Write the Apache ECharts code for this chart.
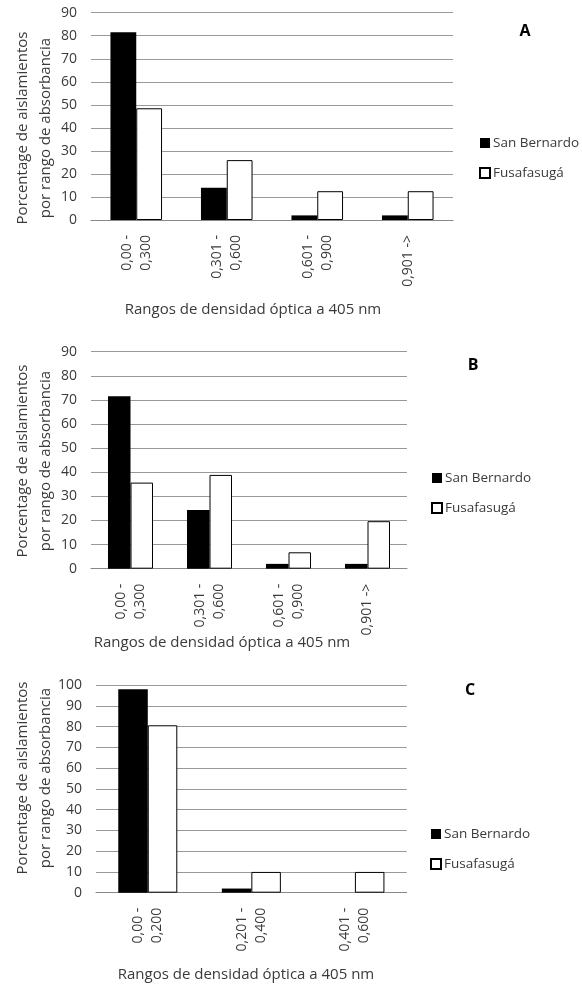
<!DOCTYPE html>
<html><head><meta charset="utf-8">
<script src="https://cdn.jsdelivr.net/npm/echarts@6/dist/echarts.min.js"></script>
<style>html,body{margin:0;padding:0;background:#fff}#c{width:582px;height:986px}</style>
</head><body><div id="c"></div>
<script>
// ---- data ----
const seriesNames = ['San Bernardo', 'Fusafasugá'];
const categoriesA = ['0,00 -\n0,300', '0,301 -\n0,600', '0,601 -\n0,900', '0,901 ->'];
const sanBernardoA = [81.5, 14, 2, 2];
const fusafasugaA = [48.5, 26, 12.5, 12.5];
const categoriesB = ['0,00 -\n0,300', '0,301 -\n0,600', '0,601 -\n0,900', '0,901 ->'];
const sanBernardoB = [71.5, 24.3, 2, 2];
const fusafasugaB = [35.7, 38.9, 6.8, 19.7];
const categoriesC = ['0,00 -\n0,200', '0,201 -\n0,400', '0,401 -\n0,600'];
const sanBernardoC = [98, 2, 0];
const fusafasugaC = [80.6, 10, 10];
const panelLabels = ['A', 'B', 'C'];
const yMaxes = [90, 90, 100];
const yInterval = 10;
const xTitle = 'Rangos de densidad óptica a 405 nm';
const yTitle = 'Porcentage de aislamientos\npor rango de absorbancia';

// ---- layout ----
const FONT = '"Open Sans", sans-serif';
const TXT = '#3a3a3a';
const panels = [
  { cats: categoriesA, sb: sanBernardoA, fu: fusafasugaA,
    grid: { left: 91, top: 12.7, width: 362, height: 207.3 },
    legend: { left: 479, top: 136 }, letter: [525, 31], xt: [253, 310], yt: [34, 128] },
  { cats: categoriesB, sb: sanBernardoB, fu: fusafasugaB,
    grid: { left: 91, top: 351.7, width: 316, height: 217 },
    legend: { left: 431, top: 471 }, letter: [473, 365], xt: [222, 643], yt: [34, 461] },
  { cats: categoriesC, sb: sanBernardoC, fu: fusafasugaC,
    grid: { left: 96, top: 685, width: 310.7, height: 207.7 },
    legend: { left: 430, top: 827 }, letter: [470, 690], xt: [246, 975], yt: [34, 778] }
];

const grid = [], xAxis = [], yAxis = [], series = [], legend = [], graphic = [];
panels.forEach((p, i) => {
  grid.push(Object.assign({ containLabel: false }, p.grid));
  xAxis.push({
    type: 'category', gridIndex: i, data: p.cats,
    axisLine: { lineStyle: { color: '#888', width: 1 } },
    axisTick: { show: false },
    axisLabel: { rotate: 90, margin: 15, interval: 0, color: TXT, fontSize: 14, fontFamily: FONT, lineHeight: 19 }
  });
  yAxis.push({
    type: 'value', gridIndex: i, min: 0, max: yMaxes[i], interval: yInterval,
    axisLine: { show: false }, axisTick: { show: false },
    splitLine: { lineStyle: { color: '#999', width: 1 } },
    axisLabel: { margin: 14, color: TXT, fontSize: 14, fontFamily: FONT }
  });
  series.push({
    name: seriesNames[0], type: 'bar', xAxisIndex: i, yAxisIndex: i, data: p.sb,
    barGap: '0%', barCategoryGap: '43%',
    itemStyle: { color: '#000', borderWidth: 0 }
  });
  series.push({
    name: seriesNames[1], type: 'bar', xAxisIndex: i, yAxisIndex: i, data: p.fu,
    barGap: '0%', barCategoryGap: '43%',
    itemStyle: { color: '#fff', borderColor: '#000', borderWidth: 1 }
  });
  legend.push({
    data: seriesNames, orient: 'vertical', left: p.legend.left, top: p.legend.top,
    icon: 'rect', itemWidth: 10, itemHeight: 10, itemGap: 16, padding: 0,
    selectedMode: false,
    textStyle: { color: TXT, fontSize: 13.5, fontFamily: FONT, lineHeight: 14, padding: [0, 0, 0, -2] }
  });
  graphic.push({
    type: 'text', x: p.letter[0], y: p.letter[1],
    style: { text: panelLabels[i], fill: '#000', font: 'bold 16px ' + FONT, textAlign: 'center', textVerticalAlign: 'middle' }
  });
  graphic.push({
    type: 'text', x: p.xt[0], y: p.xt[1],
    style: { text: xTitle, fill: TXT, font: '15px ' + FONT, textAlign: 'center', textVerticalAlign: 'middle' }
  });
  graphic.push({
    type: 'text', x: p.yt[0], y: p.yt[1], rotation: Math.PI / 2,
    style: { text: yTitle, fill: TXT, font: '15px ' + FONT, lineHeight: 23, textAlign: 'center', textVerticalAlign: 'middle' }
  });
});

const chart = echarts.init(document.getElementById('c'), null, { renderer: 'canvas' });
chart.setOption({
  backgroundColor: '#fff', animation: false,
  textStyle: { fontFamily: FONT },
  grid, xAxis, yAxis, series, legend, graphic
});
</script></body></html>
